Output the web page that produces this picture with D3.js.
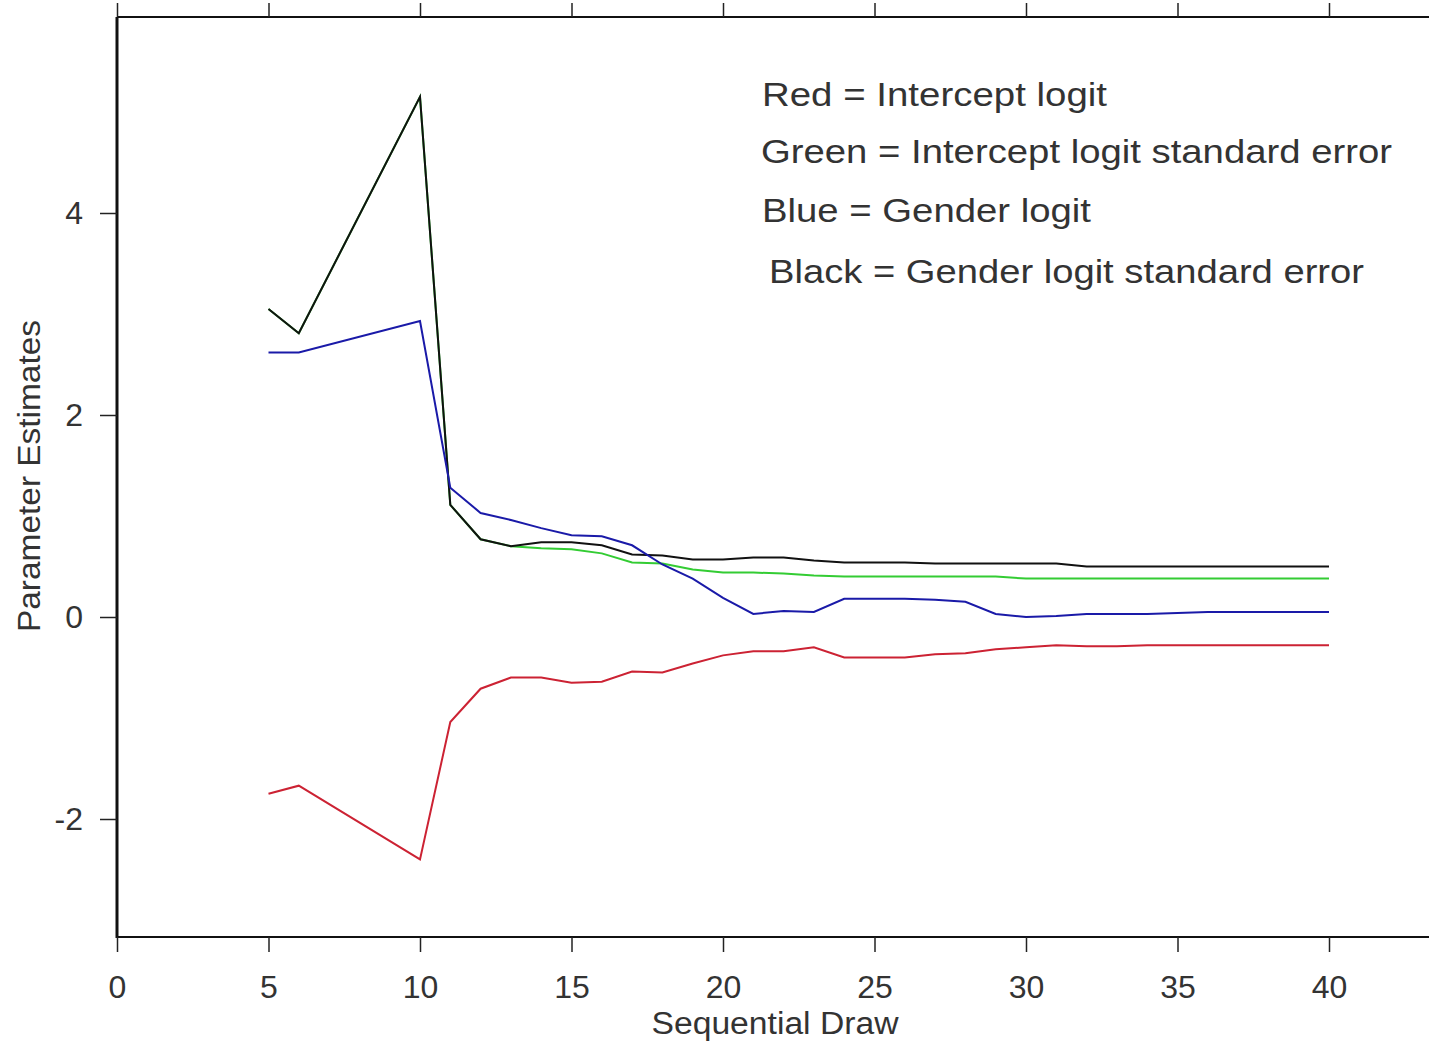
<!DOCTYPE html>
<html>
<head>
<meta charset="utf-8">
<script src="https://cdn.jsdelivr.net/npm/d3@7"></script>
<style>
  html, body { margin: 0; padding: 0; background: #fff; }
  svg { display: block; }
  text { font-family: "Liberation Sans", Arial, sans-serif; fill: #333; }
</style>
</head>
<body>
<svg id="chart" width="1429" height="1045"></svg>
<script>
// ---- data ----
const draws = [5, 6, 10, 11, 12, 13, 14, 15, 16, 17, 18, 19, 20, 21, 22, 23, 24, 25, 26, 27, 28, 29, 30, 31, 32, 33, 34, 35, 36, 37, 38, 39, 40];

const interceptLogit = [-1.75, -1.67, -2.40, -1.04, -0.71, -0.60, -0.60, -0.65, -0.64, -0.54, -0.55, -0.46, -0.38, -0.34, -0.34, -0.30, -0.40, -0.40, -0.40, -0.37, -0.36, -0.32, -0.30, -0.28, -0.29, -0.29, -0.28, -0.28, -0.28, -0.28, -0.28, -0.28, -0.28];

const interceptSE = [3.05, 2.81, 5.15, 1.11, 0.77, 0.70, 0.68, 0.67, 0.63, 0.54, 0.53, 0.47, 0.44, 0.44, 0.43, 0.41, 0.40, 0.40, 0.40, 0.40, 0.40, 0.40, 0.38, 0.38, 0.38, 0.38, 0.38, 0.38, 0.38, 0.38, 0.38, 0.38, 0.38];

const genderLogit = [2.62, 2.62, 2.93, 1.28, 1.03, 0.96, 0.88, 0.81, 0.80, 0.71, 0.52, 0.38, 0.19, 0.03, 0.06, 0.05, 0.18, 0.18, 0.18, 0.17, 0.15, 0.03, 0.00, 0.01, 0.03, 0.03, 0.03, 0.04, 0.05, 0.05, 0.05, 0.05, 0.05];

const genderSE = [3.05, 2.81, 5.15, 1.11, 0.77, 0.70, 0.74, 0.74, 0.71, 0.62, 0.61, 0.57, 0.57, 0.59, 0.59, 0.56, 0.54, 0.54, 0.54, 0.53, 0.53, 0.53, 0.53, 0.53, 0.50, 0.50, 0.50, 0.50, 0.50, 0.50, 0.50, 0.50, 0.50];

const xTicks = [0, 5, 10, 15, 20, 25, 30, 35, 40];
const yTicks = [-2, 0, 2, 4];

const legendLines = [
  "Red = Intercept logit",
  "Green = Intercept logit standard error",
  "Blue = Gender logit",
  "Black = Gender logit standard error"
];

const xTitle = "Sequential Draw";
const yTitle = "Parameter Estimates";

// ---- drawing ----
const svg = d3.select("#chart");
const pLeft = 117, pRight = 1429, pTop = 17, pBottom = 937;

const x = d3.scaleLinear().domain([0, 40]).range([117, 1329]);
const y = d3.scaleLinear().domain([-2, 4]).range([819, 213]);
const plainFmt = d => String(d);

// frame
svg.append("line").attr("x1", pLeft).attr("x2", pRight).attr("y1", pTop).attr("y2", pTop)
  .attr("stroke", "#111").attr("stroke-width", 2);
svg.append("line").attr("x1", pLeft).attr("x2", pRight).attr("y1", pBottom).attr("y2", pBottom)
  .attr("stroke", "#111").attr("stroke-width", 2);
svg.append("line").attr("x1", pLeft).attr("x2", pLeft).attr("y1", pTop).attr("y2", pBottom + 1)
  .attr("stroke", "#111").attr("stroke-width", 3);

// bottom axis
const xAxis = svg.append("g").attr("transform", `translate(0,${pBottom})`)
  .call(d3.axisBottom(x).tickValues(xTicks).tickSize(15).tickPadding(23).tickFormat(plainFmt));
xAxis.select(".domain").remove();
xAxis.selectAll(".tick line").attr("stroke", "#222").attr("stroke-width", 1.5);
xAxis.selectAll(".tick text").attr("font-size", 32).attr("fill", "#444")
  .attr("font-family", "'Liberation Sans', Arial, sans-serif");

// top axis (ticks only)
const xTop = svg.append("g").attr("transform", `translate(0,${pTop})`)
  .call(d3.axisTop(x).tickValues(xTicks).tickSize(14).tickFormat(""));
xTop.select(".domain").remove();
xTop.selectAll(".tick line").attr("stroke", "#222").attr("stroke-width", 1.5);

// left axis
const yAxis = svg.append("g").attr("transform", `translate(${pLeft},0)`)
  .call(d3.axisLeft(y).tickValues(yTicks).tickSize(17).tickPadding(17).tickFormat(plainFmt));
yAxis.select(".domain").remove();
yAxis.selectAll(".tick line").attr("stroke", "#222").attr("stroke-width", 1.5);
yAxis.selectAll(".tick text").attr("font-size", 32).attr("fill", "#444")
  .attr("font-family", "'Liberation Sans', Arial, sans-serif");

// titles
svg.append("text").attr("x", 775).attr("y", 1034).attr("text-anchor", "middle")
  .attr("font-size", 31).attr("fill", "#444")
  .attr("textLength", 247).attr("lengthAdjust", "spacingAndGlyphs")
  .text(xTitle);
svg.append("text").attr("transform", "translate(40,476) rotate(-90)").attr("text-anchor", "middle")
  .attr("font-size", 31).attr("fill", "#444")
  .attr("textLength", 312).attr("lengthAdjust", "spacingAndGlyphs")
  .text(yTitle);

// series
const series = [
  { values: interceptSE, color: "#33cc33" },
  { values: genderSE, color: "#111111" },
  { values: genderLogit, color: "#1a1aa8" },
  { values: interceptLogit, color: "#cc2233" }
];
const line = d3.line().x(d => x(d[0])).y(d => y(d[1]));
series.forEach(s => {
  svg.append("path")
    .datum(draws.map((d, i) => [d, s.values[i]]))
    .attr("d", line)
    .attr("fill", "none")
    .attr("stroke", s.color)
    .attr("stroke-width", 2);
});

// legend
const legendX = [762, 761, 762, 769];
const legendY = [106, 163, 222, 283];
const legendW = [345, 631, 329, 595];
legendLines.forEach((t, i) => {
  svg.append("text").attr("x", legendX[i]).attr("y", legendY[i])
    .attr("font-size", 33).attr("fill", "#222")
    .attr("textLength", legendW[i]).attr("lengthAdjust", "spacingAndGlyphs")
    .text(t);
});
</script>
</body>
</html>
